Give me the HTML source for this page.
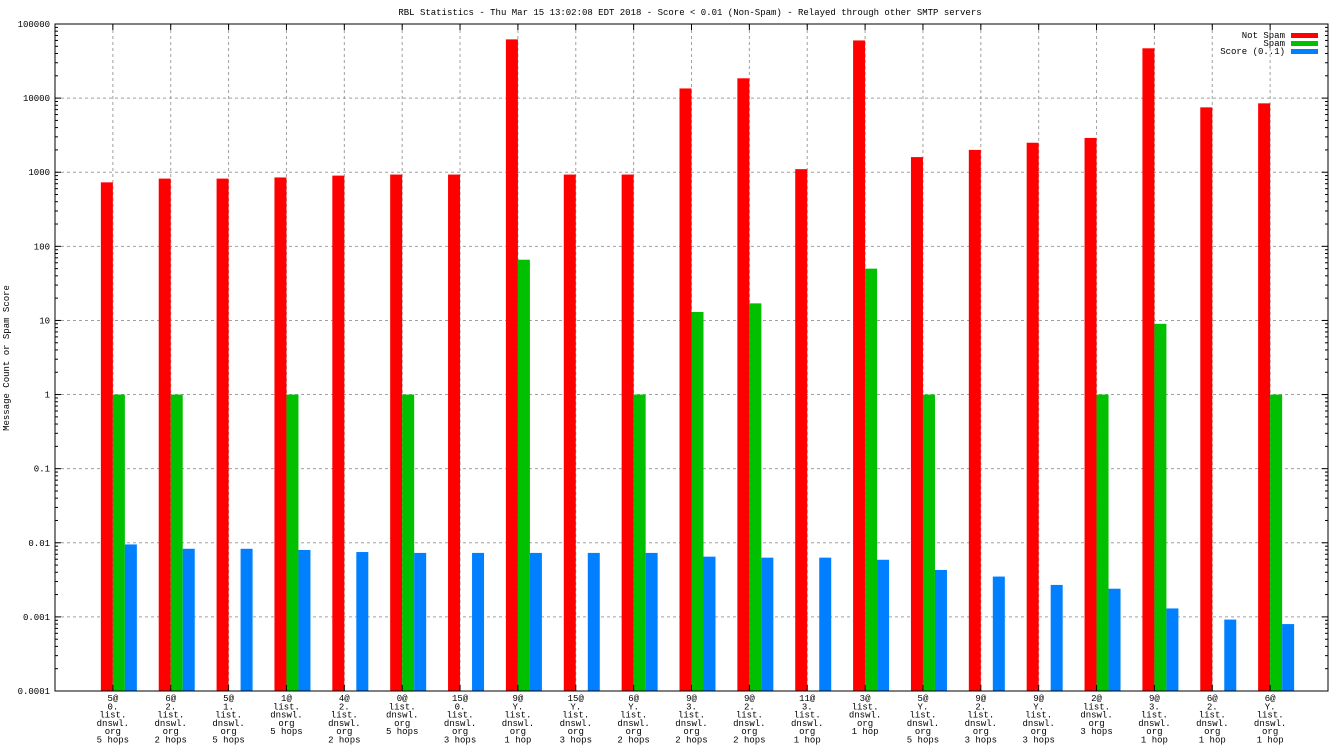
<!DOCTYPE html>
<html><head><meta charset="utf-8"><style>
html,body{margin:0;padding:0;background:#fff;}
svg{display:block;font-family:"Liberation Mono","DejaVu Sans Mono",monospace;}
</style></head><body>
<svg id="chart" width="1344" height="756" xmlns="http://www.w3.org/2000/svg">
<text x="690" y="15" font-size="9" text-anchor="middle">RBL Statistics - Thu Mar 15 13:02:08 EDT 2018 - Score &lt; 0.01 (Non-Spam) - Relayed through other SMTP servers</text>
<text transform="translate(9,358) rotate(-90)" font-size="9" text-anchor="middle">Message Count or Spam Score</text>
<g id="grid"></g><g id="bars"></g><g id="axes"></g><g id="labels"></g>
<g>
<text x="1285" y="38" font-size="9" text-anchor="end">Not Spam</text>
<rect x="1291" y="33" width="27" height="5" fill="#ff0000"/>
<text x="1285" y="46" font-size="9" text-anchor="end">Spam</text>
<rect x="1291" y="41" width="27" height="5" fill="#00c000"/>
<text x="1285" y="54" font-size="9" text-anchor="end">Score (0..1)</text>
<rect x="1291" y="49" width="27" height="5" fill="#0080ff"/>
</g>
</svg>
<script>
const categories = [
["5@","0.","list.","dnswl.","org","5 hops"],["6@","2.","list.","dnswl.","org","2 hops"],["5@","1.","list.","dnswl.","org","5 hops"],
["1@","list.","dnswl.","org","5 hops"],["4@","2.","list.","dnswl.","org","2 hops"],["0@","list.","dnswl.","org","5 hops"],
["15@","0.","list.","dnswl.","org","3 hops"],["9@","Y.","list.","dnswl.","org","1 hop"],["15@","Y.","list.","dnswl.","org","3 hops"],
["6@","Y.","list.","dnswl.","org","2 hops"],["9@","3.","list.","dnswl.","org","2 hops"],["9@","2.","list.","dnswl.","org","2 hops"],
["11@","3.","list.","dnswl.","org","1 hop"],["3@","list.","dnswl.","org","1 hop"],["5@","Y.","list.","dnswl.","org","5 hops"],
["9@","2.","list.","dnswl.","org","3 hops"],["9@","Y.","list.","dnswl.","org","3 hops"],["2@","list.","dnswl.","org","3 hops"],
["9@","3.","list.","dnswl.","org","1 hop"],["6@","2.","list.","dnswl.","org","1 hop"],["6@","Y.","list.","dnswl.","org","1 hop"]];
const notSpam = [730,820,820,850,900,930,930,62000,930,930,13500,18500,1100,60000,1600,2000,2500,2900,47000,7500,8500];
const spam = [1,1,0,1,0,1,0,66,0,1,13,17,0,50,1,0,0,1,9,0,1];
const score = [0.0095,0.0083,0.0083,0.008,0.0075,0.0073,0.0073,0.0073,0.0073,0.0073,0.0065,0.0063,0.0063,0.0059,0.0043,0.0035,0.0027,0.0024,0.0013,0.00092,0.0008];
const yTicks = ["0.0001","0.001","0.01","0.1","1","10","100","1000","10000","100000"];

const L=55,R=1328,T=24,B=691,NS="http://www.w3.org/2000/svg";
const step=(R-L)/(categories.length+1);
function xc(i){return L+(i+1)*step;}
function y(v){return B-(Math.log10(v)+4)/9*(B-T);}
function mk(tag,attrs,parent){const e=document.createElementNS(NS,tag);for(const k in attrs)e.setAttribute(k,attrs[k]);parent.appendChild(e);return e;}
const grid=document.getElementById('grid'),bars=document.getElementById('bars'),axes=document.getElementById('axes'),labels=document.getElementById('labels');
yTicks.forEach((t,k)=>{const yy=y(parseFloat(t));
 if(k>0&&k<yTicks.length-1){const g=mk('line',{x1:L,x2:R,y1:yy,y2:yy,stroke:'#a0a0a0','stroke-dasharray':'3,3'},grid);
 
 }
 const tx=mk('text',{x:50,y:yy+3,'font-size':9,'text-anchor':'end'},labels);tx.textContent=t;
 
 
 mk('line',{x1:L,x2:L+6,y1:yy,y2:yy,stroke:'#000'},axes);mk('line',{x1:R-6,x2:R,y1:yy,y2:yy,stroke:'#000'},axes);
 if(k<yTicks.length-1){for(let m=2;m<10;m++){const ym=y(parseFloat(t)*m);mk('line',{x1:L,x2:L+3,y1:ym,y2:ym,stroke:'#000'},axes);mk('line',{x1:R-3,x2:R,y1:ym,y2:ym,stroke:'#000'},axes);}}
});
categories.forEach((c,i)=>{const x=xc(i);
 const g=mk('line',{x1:x,x2:x,y1:T,y2:B,stroke:'#a0a0a0','stroke-dasharray':'3,3'},grid);
 
 
 mk('line',{x1:x,x2:x,y1:T,y2:T+6,stroke:'#000'},axes);mk('line',{x1:x,x2:x,y1:B-6,y2:B,stroke:'#000'},axes);
 const w=12;
 const r=mk('rect',{x:x-w,y:y(notSpam[i]),width:w,height:B-y(notSpam[i]),fill:'#ff0000'},bars);
 
 
 if(spam[i]>0){const s=mk('rect',{x:x,y:y(spam[i]),width:w,height:B-y(spam[i]),fill:'#00c000'},bars);
 
 }
 const b=mk('rect',{x:x+w,y:y(score[i]),width:w,height:B-y(score[i]),fill:'#0080ff'},bars);
 
 
 c.forEach((ln,j)=>{const t=mk('text',{x:x,y:701+j*8.3,'font-size':9,'text-anchor':'middle'},labels);t.textContent=ln;
 
 });
});
const f=mk('rect',{x:L,y:T,width:R-L,height:B-T,fill:'none',stroke:'#000'},axes);


</script>
</body></html>
